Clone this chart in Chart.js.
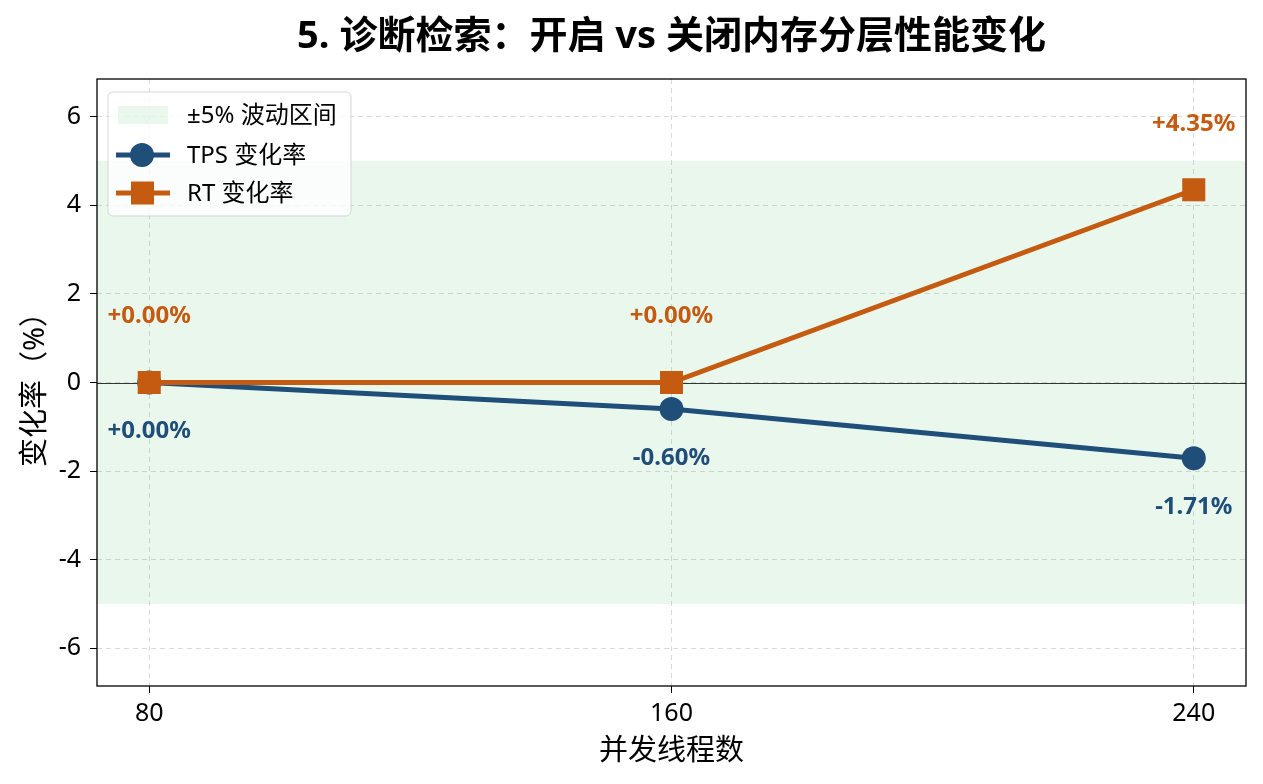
<!DOCTYPE html>
<html><head><meta charset="utf-8">
<script src="https://cdn.jsdelivr.net/npm/chart.js@4/dist/chart.umd.min.js"></script>
<style>html,body{margin:0;padding:0;background:#fff}#wrap{width:1263px;height:784px}</style>
</head><body><div id="wrap"><canvas id="c"></canvas></div>
<script>
const threads = [80, 160, 240];
const tpsChange = [0.00, -0.60, -1.71];
const rtChange = [0.00, 0.00, 4.35];
const yTicks = [-6, -4, -2, 0, 2, 4, 6];
const bandRange = [-5, 5];
const titleText = '5. 诊断检索：开启 vs 关闭内存分层性能变化';
const legendLabels = ['±5% 波动区间', 'TPS 变化率', 'RT 变化率'];
const FONT = '"Noto Sans", "Noto Sans CJK SC", sans-serif';
const C_TPS = '#1f4e79', C_RT = '#c55a11';
const BAND = 'rgba(40,180,80,0.1)';

const fmt = v => (v >= 0 ? '+' : '') + v.toFixed(2) + '%';

const deco = {
  id: 'deco',
  beforeDatasetsDraw(chart) {
    const {ctx, chartArea: a, scales: {x, y}} = chart;
    ctx.save();
    ctx.fillStyle = BAND;
    const y1 = y.getPixelForValue(bandRange[1]), y0 = y.getPixelForValue(bandRange[0]);
    ctx.fillRect(a.left, y1, a.right - a.left, y0 - y1);
    ctx.strokeStyle = '#333';
    ctx.lineWidth = 1;
    const yz = Math.round(y.getPixelForValue(0)) + 0.5;
    ctx.beginPath(); ctx.moveTo(a.left, yz); ctx.lineTo(a.right, yz); ctx.stroke();
    ctx.restore();
  },
  afterDatasetsDraw(chart) {
    const {ctx, chartArea: a, scales: {x, y}} = chart;
    ctx.save();
    ctx.font = 'bold 24px ' + FONT;
    ctx.textAlign = 'center'; ctx.textBaseline = 'middle';
    threads.forEach((t, i) => {
      const px = x.getPixelForValue(t);
      ctx.fillStyle = C_TPS;
      ctx.fillText(fmt(tpsChange[i]), px, y.getPixelForValue(tpsChange[i]) + 49);
      ctx.fillStyle = C_RT;
      ctx.fillText(fmt(rtChange[i]), px, y.getPixelForValue(rtChange[i]) - 66);
    });
    ctx.strokeStyle = '#000'; ctx.lineWidth = 1.3;
    ctx.strokeRect(a.left, a.top, a.right - a.left, a.bottom - a.top);
    ctx.fillStyle = '#000';
    ctx.font = 'bold 38px ' + FONT;
    ctx.fillText(titleText, (a.left + a.right) / 2, 37);
    const lx = 108, ly = 92, lw = 243, lh = 124;
    ctx.beginPath();
    ctx.roundRect(lx, ly, lw, lh, 5);
    ctx.fillStyle = 'rgba(255,255,255,0.8)'; ctx.fill();
    ctx.strokeStyle = '#d6d6d6'; ctx.lineWidth = 1; ctx.stroke();
    ctx.font = '24px ' + FONT;
    ctx.textAlign = 'left';
    const rows = [115, 155, 193];
    ctx.fillStyle = BAND;
    ctx.fillRect(118, rows[0] - 9, 50, 18);
    [C_TPS, C_RT].forEach((c, k) => {
      const ry = rows[k + 1];
      ctx.strokeStyle = c; ctx.lineWidth = 5;
      ctx.beginPath(); ctx.moveTo(116, ry); ctx.lineTo(170, ry); ctx.stroke();
      ctx.fillStyle = c;
      if (k === 0) { ctx.beginPath(); ctx.arc(142, ry, 12, 0, Math.PI * 2); ctx.fill(); }
      else ctx.fillRect(131, ry - 11.5, 23, 23);
    });
    ctx.fillStyle = '#000';
    legendLabels.forEach((l, k) => ctx.fillText(l, 187, rows[k] + 1));
    ctx.restore();
  }
};

new Chart(document.getElementById('c'), {
  type: 'line',
  data: {
    datasets: [
      { label: legendLabels[1], data: threads.map((t, i) => ({x: t, y: tpsChange[i]})), order: 2,
        borderColor: C_TPS, backgroundColor: C_TPS, borderWidth: 5,
        pointStyle: 'circle', pointRadius: 12, pointHoverRadius: 12, pointBorderWidth: 0 },
      { label: legendLabels[2], data: threads.map((t, i) => ({x: t, y: rtChange[i]})), order: 1,
        borderColor: C_RT, backgroundColor: C_RT, borderWidth: 5,
        pointStyle: 'rect', pointRadius: 16.3, pointHoverRadius: 16.3, pointBorderWidth: 0 }
    ]
  },
  options: {
    responsive: true, maintainAspectRatio: false, animation: false,
    layout: { padding: { top: 79, right: 17, left: 0, bottom: 0 } },
    plugins: { legend: { display: false }, title: { display: false }, tooltip: { enabled: false } },
    scales: {
      x: {
        type: 'linear', min: 72, max: 248,
        afterBuildTicks: s => { s.ticks = threads.map(v => ({value: v})); },
        afterFit: s => { s.height = 98; },
        grid: { color: 'rgba(0,0,0,0.15)', tickColor: '#000', tickLength: 7, lineWidth: 1 },
        border: { display: false, dash: [5, 4] },
        ticks: { color: '#000', font: { size: 25, family: FONT }, padding: 6, maxRotation: 0 },
        title: { display: true, text: '并发线程数', color: '#000', font: { size: 29, family: FONT }, padding: { top: 0, bottom: 15 } }
      },
      y: {
        min: -6.85, max: 6.85,
        afterBuildTicks: s => { s.ticks = yTicks.map(v => ({value: v})); },
        afterFit: s => { s.width = 97; },
        grid: { color: 'rgba(0,0,0,0.15)', tickColor: '#000', tickLength: 7, lineWidth: 1 },
        border: { display: false, dash: [5, 4] },
        ticks: { color: '#000', font: { size: 25, family: FONT }, padding: 9 },
        title: { display: true, text: '变化率（%）', color: '#000', font: { size: 29, family: FONT }, padding: { top: 18, bottom: 0 } }
      }
    }
  },
  plugins: [deco]
});
</script></body></html>
